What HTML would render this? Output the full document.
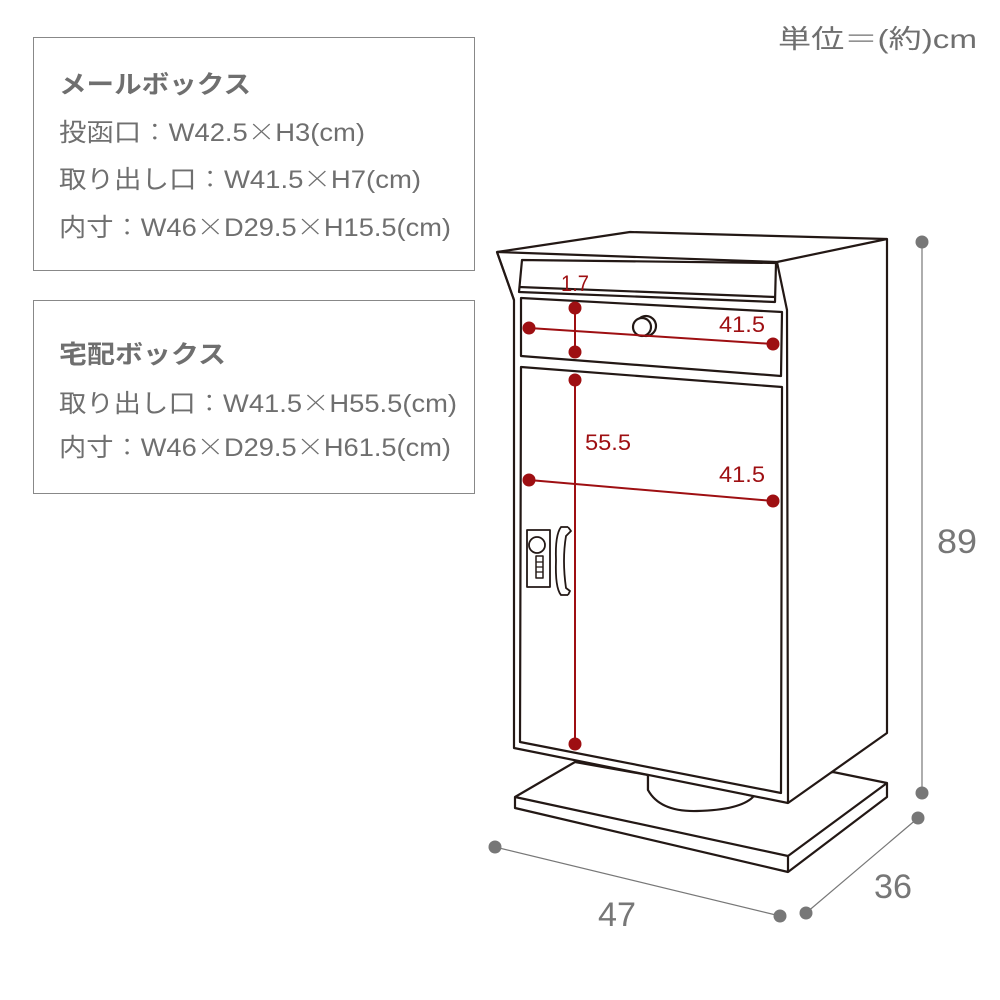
<!DOCTYPE html>
<html><head><meta charset="utf-8"><style>
html,body{margin:0;padding:0;background:#fff;}
svg{display:block;}
text{font-family:"Liberation Sans","Noto Sans CJK JP",sans-serif;}
.j{font-family:"Noto Sans CJK JP",sans-serif;font-weight:300;}
</style></head><body>
<svg width="1000" height="1000" viewBox="0 0 1000 1000" xmlns="http://www.w3.org/2000/svg">
<rect width="1000" height="1000" fill="#fff"/>
<rect x="33.5" y="37.5" width="441" height="233" fill="none" stroke="#888" stroke-width="1"/>
<rect x="33.5" y="300.5" width="441" height="193" fill="none" stroke="#888" stroke-width="1"/>
<g fill="#6f6f6f" font-size="25">
<text x="59" y="93" font-weight="bold" font-size="25" textLength="192" lengthAdjust="spacingAndGlyphs">メールボックス</text>
<text x="59" y="141" textLength="306" lengthAdjust="spacingAndGlyphs">投函口<tspan class="j">：</tspan>W42.5<tspan class="j">×</tspan>H3(cm)</text>
<text x="59" y="188" textLength="362" lengthAdjust="spacingAndGlyphs">取り出し口<tspan class="j">：</tspan>W41.5<tspan class="j">×</tspan>H7(cm)</text>
<text x="59" y="236" textLength="392" lengthAdjust="spacingAndGlyphs">内寸<tspan class="j">：</tspan>W46<tspan class="j">×</tspan>D29.5<tspan class="j">×</tspan>H15.5(cm)</text>
<text x="59" y="363" font-weight="bold" textLength="167" lengthAdjust="spacingAndGlyphs">宅配ボックス</text>
<text x="59" y="412" textLength="398" lengthAdjust="spacingAndGlyphs">取り出し口<tspan class="j">：</tspan>W41.5<tspan class="j">×</tspan>H55.5(cm)</text>
<text x="59" y="456" textLength="392" lengthAdjust="spacingAndGlyphs">内寸<tspan class="j">：</tspan>W46<tspan class="j">×</tspan>D29.5<tspan class="j">×</tspan>H61.5(cm)</text>
<text x="778" y="48" font-size="26" textLength="199" lengthAdjust="spacingAndGlyphs">単位<tspan class="j">＝</tspan>(約)cm</text>
</g>
<g fill="none" stroke="#231815" stroke-width="2.2" stroke-linejoin="round">
<polygon points="515,797 575,762 648,775 648,790 752,797 833,772 887,783 887,797 788,872 515,808" fill="#fff"/>
<path d="M515,797 L788,856 L887,783 M788,856 L788,872"/>
<path d="M648,775 L648,790 Q660,812 697,811 Q740,810 753,797" fill="#fff"/>
<polygon points="497,252 630,232 887,239 887,733 788,803 514,748 514,300" fill="#fff"/>
<path d="M497,252 L777,262 L887,239"/>
<path d="M777,262 L787,310 L788,803"/>
<path d="M497,252 L514,300"/>
<path d="M522,260 L776,263 L775,302 L519,292 Z"/>
<path d="M519,287 L775,297"/>
<polygon points="521,298 782,312 781,376 521,356"/>
<polygon points="521,367 782,387 781,793 520,742"/>
<circle cx="646" cy="326" r="10" fill="#fff"/>
<circle cx="642" cy="327" r="9" fill="#fff"/>
<rect x="527" y="530" width="23" height="57" stroke-width="1.8"/>
<circle cx="537" cy="545" r="8" stroke-width="1.8"/>
<rect x="536" y="556" width="7" height="22" stroke-width="1.5"/>
<path d="M536,562 H543 M536,567 H543 M536,572 H543" stroke-width="1.2"/>
<path d="M568,527 L561,527 Q555,535 556,560 Q555,588 561,595 L568,595 M568,527 L571,531 L566,536 Q562,560 566,588 L570,591 L568,595" stroke-width="1.8"/>
</g>
<g stroke="#9e0f12" stroke-width="2" fill="#9e0f12">
<line x1="529" y1="328" x2="773" y2="344"/>
<line x1="575" y1="308" x2="575" y2="352"/>
<line x1="575" y1="380" x2="575" y2="744"/>
<line x1="529" y1="480" x2="773" y2="501"/>
<g stroke="none">
<circle cx="529" cy="328" r="6.5"/><circle cx="773" cy="344" r="6.5"/>
<circle cx="575" cy="308" r="6.5"/><circle cx="575" cy="352" r="6.5"/>
<circle cx="575" cy="380" r="6.5"/><circle cx="575" cy="744" r="6.5"/>
<circle cx="529" cy="480" r="6.5"/><circle cx="773" cy="501" r="6.5"/>
</g>
</g>
<g fill="#9e0f12" font-size="22">
<text x="561" y="291" textLength="28" lengthAdjust="spacingAndGlyphs">1.7</text>
<text x="719" y="332" textLength="46" lengthAdjust="spacingAndGlyphs">41.5</text>
<text x="585" y="450" textLength="46" lengthAdjust="spacingAndGlyphs">55.5</text>
<text x="719" y="482" textLength="46" lengthAdjust="spacingAndGlyphs">41.5</text>
</g>
<g stroke="#777" stroke-width="1.2" fill="#777">
<line x1="922" y1="242" x2="922" y2="793"/>
<line x1="495" y1="847" x2="780" y2="916"/>
<line x1="918" y1="818" x2="806" y2="913"/>
<g stroke="none">
<circle cx="922" cy="242" r="6.5"/><circle cx="922" cy="793" r="6.5"/>
<circle cx="495" cy="847" r="6.5"/><circle cx="780" cy="916" r="6.5"/>
<circle cx="918" cy="818" r="6.5"/><circle cx="806" cy="913" r="6.5"/>
</g>
</g>
<g fill="#777" font-size="34">
<text x="937" y="553" textLength="40" lengthAdjust="spacingAndGlyphs">89</text>
<text x="598" y="926" textLength="38" lengthAdjust="spacingAndGlyphs">47</text>
<text x="874" y="898" textLength="38" lengthAdjust="spacingAndGlyphs">36</text>
</g>
</svg>
</body></html>
